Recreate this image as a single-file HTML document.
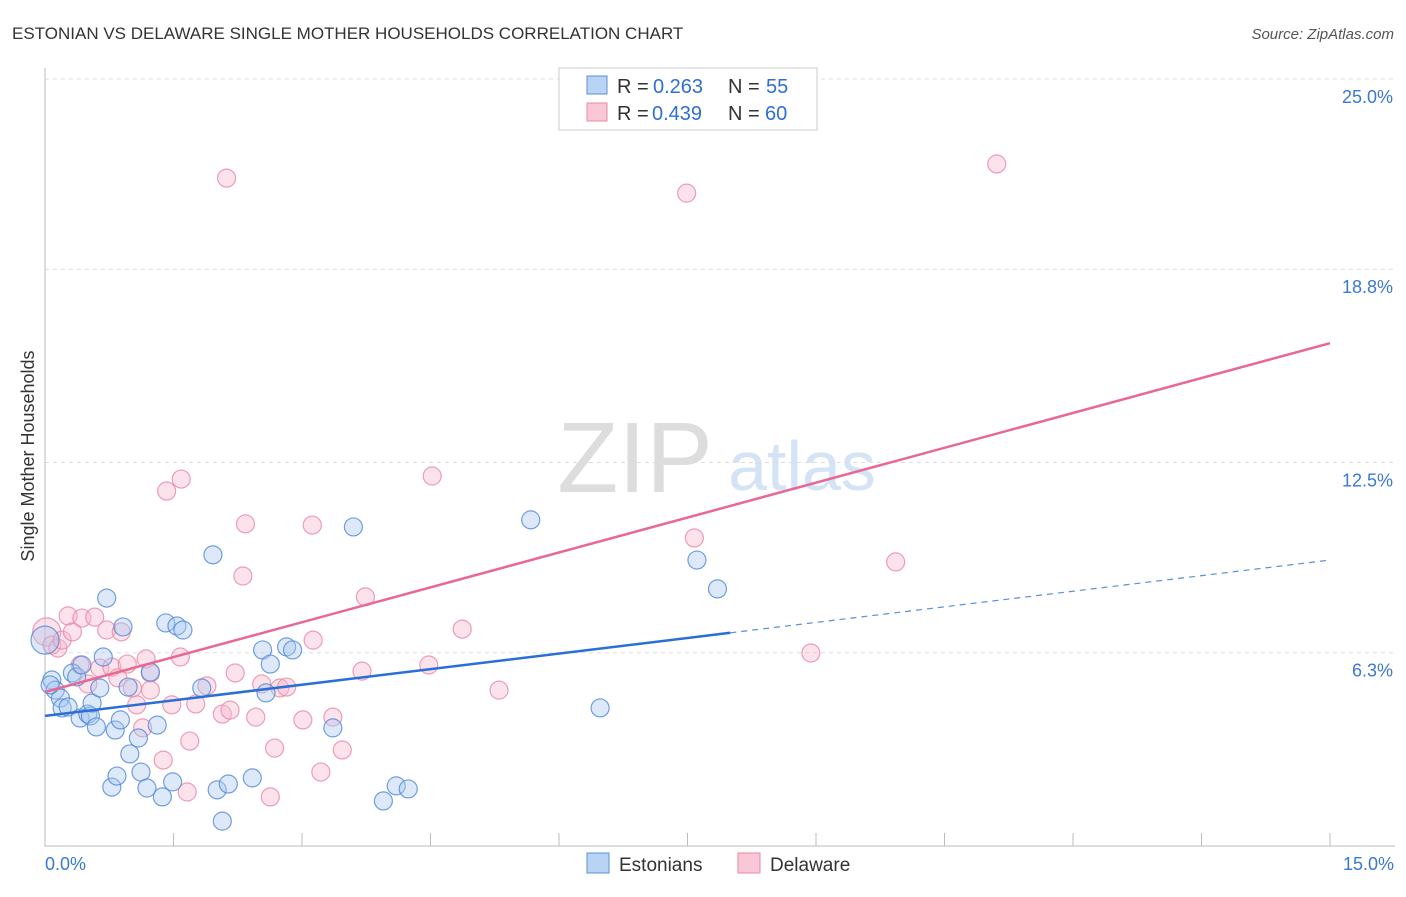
<!DOCTYPE html>
<html><head><meta charset="utf-8"><style>
body{margin:0;background:#fff;font-family:"Liberation Sans",sans-serif}
svg text{font-family:"Liberation Sans",sans-serif}
</style></head><body>
<svg width="1406" height="892">
<text x="12" y="39" font-size="17" fill="#333">ESTONIAN VS DELAWARE SINGLE MOTHER HOUSEHOLDS CORRELATION CHART</text>
<text x="1394" y="39" font-size="15" fill="#555" font-style="italic" text-anchor="end">Source: ZipAtlas.com</text>
<text x="34" y="456" font-size="18" fill="#333" text-anchor="middle" transform="rotate(-90 34 456)">Single Mother Households</text>
<g><text x="635" y="492" font-size="100" fill="#ddd" font-family="Liberation Serif" text-anchor="middle">ZIP</text><text x="802" y="490" font-size="70" fill="#d4e3f5" text-anchor="middle">atlas</text></g>
<g id="grid"></g><g id="axes"></g><g id="pts"></g><g id="trend"></g>
<g>
<rect x="559" y="68" width="258" height="62" fill="#fff" stroke="#ccc"/>
<rect x="587" y="76" width="20" height="18" fill="#b8d3f3" stroke="#5a8fd6"/>
<rect x="587" y="103" width="20" height="18" fill="#f9c7d6" stroke="#e88aa8"/>
<text y="93" font-size="20" fill="#333"><tspan x="617">R =</tspan><tspan x="653" fill="#2f6fd4">0.263</tspan><tspan x="728">N =</tspan><tspan x="766" fill="#2f6fd4">55</tspan></text>
<text y="120" font-size="20" fill="#333"><tspan x="617">R =</tspan><tspan x="652" fill="#2f6fd4">0.439</tspan><tspan x="728">N =</tspan><tspan x="765" fill="#2f6fd4">60</tspan></text>
</g>
<g>
<rect x="587" y="853" width="22" height="20" fill="#b8d3f3" stroke="#5a8fd6"/>
<text x="619" y="871" font-size="19" fill="#333">Estonians</text>
<rect x="738" y="853" width="22" height="20" fill="#f9c7d6" stroke="#e88aa8"/>
<text x="770" y="871" font-size="19" fill="#333">Delaware</text>
</g>
</svg>
<script>
const yTicks=[25,18.8,12.5,6.3];
const yTickLabels=["25.0%","18.8%","12.5%","6.3%"];
const xTickLabels=["0.0%","15.0%"];
const blueX=[0.08,0.12,0.18,0.20,0.27,0.32,0.37,0.41,0.43,0.50,0.53,0.55,0.60,0.64,0.68,0.72,0.78,0.82,0.84,0.88,0.91,0.97,0.99,1.09,1.12,1.19,1.23,1.31,1.37,1.41,1.49,1.54,1.61,1.83,1.96,2.01,2.07,2.14,2.42,2.54,2.58,2.63,2.82,2.89,3.36,3.60,3.95,4.10,4.24,5.67,6.48,7.61,7.85,0.06,0];
const blueY=[5.41,5.08,4.82,4.50,4.53,5.64,5.51,4.17,5.90,4.30,4.24,4.66,3.88,5.15,6.16,8.08,1.92,3.78,2.28,4.11,7.14,5.18,3.00,3.52,2.41,1.89,5.67,3.94,1.60,7.27,2.09,7.17,7.04,5.15,9.49,1.83,0.81,2.02,2.22,6.39,4.99,5.93,6.49,6.39,3.85,10.40,1.47,1.96,1.86,10.63,4.50,9.32,8.38,5.25,6.71];
const pinkX=[0.02,0.08,0.15,0.20,0.27,0.32,0.41,0.43,0.50,0.58,0.64,0.72,0.78,0.85,0.89,0.96,1.02,1.07,1.14,1.18,1.23,1.38,1.42,1.48,1.58,1.59,1.66,1.69,1.76,1.89,2.07,2.12,2.16,2.22,2.31,2.34,2.46,2.53,2.63,2.68,2.74,2.82,3.01,3.12,3.13,3.22,3.36,3.47,3.70,3.74,4.48,4.52,4.87,5.30,7.49,7.58,8.94,9.93,11.11,1.23];
const pinkY=[6.98,6.55,6.45,6.71,7.50,6.98,5.90,7.43,5.28,7.46,5.80,7.04,5.83,5.48,6.98,5.93,5.15,4.60,3.85,6.10,5.64,2.80,11.57,4.60,6.16,11.96,1.76,3.42,4.63,5.22,4.30,21.77,4.43,5.64,8.80,10.50,4.20,5.28,1.60,3.19,5.15,5.18,4.11,10.46,6.71,2.41,4.20,3.13,5.70,8.12,5.90,12.06,7.07,5.08,21.28,10.04,6.29,9.26,22.23,5.08];
const blueTrend=[4.24,9.32];
const pinkTrend=[5.02,16.39];
const NS="http://www.w3.org/2000/svg";
const X=v=>45+v*1285/15, Y=v=>846-v*767/25;
function mk(p,t,a){const e=document.createElementNS(NS,t);for(const k in a)e.setAttribute(k,a[k]);document.getElementById(p).appendChild(e);return e;}
yTicks.forEach((t,i)=>{
 const l=mk('grid','line',{x1:45,x2:1395,y1:Y(t),y2:Y(t),stroke:'#ddd','stroke-dasharray':'4,4'});
 
 
 const tx=mk('grid','text',{x:1393,y:Y(t)+24,'font-size':18,fill:'#3b78d4','text-anchor':'end'});tx.textContent=yTickLabels[i];
 
 
});
const ax=mk('axes','path',{d:'M45 68V846H1395',stroke:'#bbb',fill:'none'});


for(let i=0;i<=10;i++){const t=mk('axes','line',{x1:X(i*1.5),x2:X(i*1.5),y1:833,y2:846,stroke:'#bbb'});
 
 }
[[0,'start',45],[15,'end',1394]].forEach((d,i)=>{const t=mk('axes','text',{x:d[2],y:870,'font-size':18,fill:'#3b78d4','text-anchor':d[1]});t.textContent=xTickLabels[i];
 
 });
function pts(xs,ys,fill,stroke,name){xs.forEach((x,i)=>{const big=(x<0.05);const c=mk('pts','circle',{cx:X(x),cy:Y(ys[i]),r:big?14:9,fill:fill,'fill-opacity':0.4,stroke:stroke,'stroke-opacity':0.8,'stroke-width':1.2});
 
 });}
pts(pinkX,pinkY,'#f7b6ca','#e887a6','delaware-point');
pts(blueX,blueY,'#a9c9f1','#4f88d8','estonian-point');
const bm=8.0, bs=(blueTrend[1]-blueTrend[0])/15;
const b1=mk('trend','line',{x1:X(0),y1:Y(blueTrend[0]),x2:X(bm),y2:Y(blueTrend[0]+bs*bm),stroke:'#2a6fd6','stroke-width':2.5});


const b2=mk('trend','line',{x1:X(bm),y1:Y(blueTrend[0]+bs*bm),x2:X(15),y2:Y(blueTrend[1]),stroke:'#5a8fd6','stroke-width':1.2,'stroke-dasharray':'6,5'});


const p1=mk('trend','line',{x1:X(0),y1:Y(pinkTrend[0]),x2:X(15),y2:Y(pinkTrend[1]),stroke:'#e86894','stroke-width':2.5});


</script>
</body></html>
